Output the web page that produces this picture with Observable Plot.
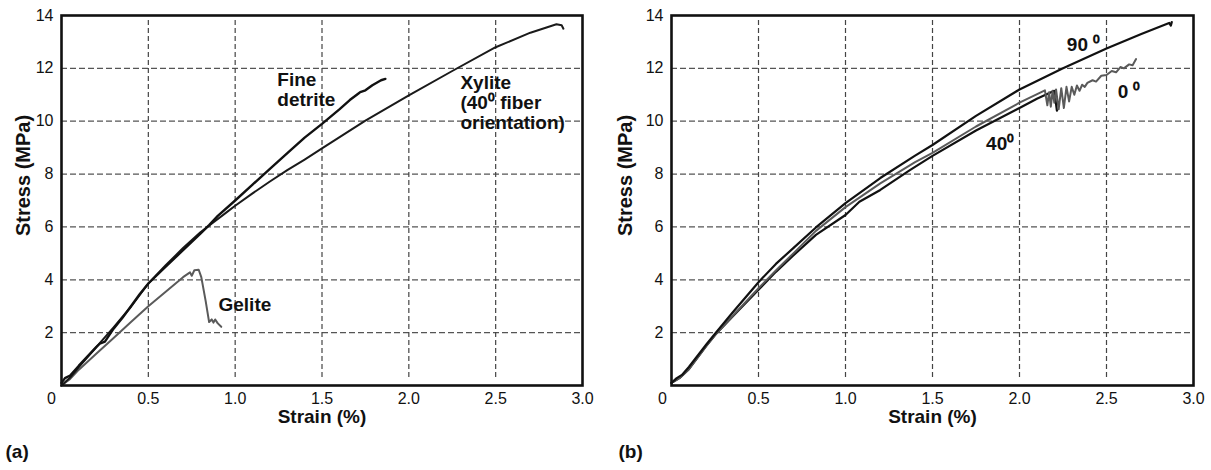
<!DOCTYPE html>
<html><head><meta charset="utf-8">
<script src="https://cdn.jsdelivr.net/npm/d3@7"></script>
<script src="https://cdn.jsdelivr.net/npm/@observablehq/plot@0.6"></script>
<style>
body{margin:0;background:#fff;}
#wrap{display:flex;width:1211px;height:470px;overflow:hidden;}
svg [aria-label="x-axis tick label"], svg [aria-label="y-axis tick label"], svg [aria-label="origin"] {font-size:16px !important;}
svg [aria-label="x-axis tick label"] text, svg [aria-label="y-axis tick label"] text {font-size:16px !important;}
</style></head><body><div id="wrap"></div>
<script>
// Tick values and grid
const xTicks = [0.5, 1, 1.5, 2, 2.5, 3];
const yTicks = [2, 4, 6, 8, 10, 12, 14];
const xGrid = [0.5, 1, 1.5, 2, 2.5];
const yGrid = [2, 4, 6, 8, 10, 12];

// Panel (a) series: [strain %, stress MPa]
const fineDetrite = [[0,0.1],[0.02,0.28],[0.05,0.38],[0.1,0.75],[0.15,1.1],[0.2,1.45],[0.22,1.58],[0.25,1.66],[0.3,2.15],[0.35,2.55],[0.4,3.0],[0.45,3.45],[0.5,3.86],[0.6,4.5],[0.7,5.12],[0.8,5.75],[0.85,6.07],[0.9,6.42],[1.0,7.0],[1.1,7.6],[1.2,8.2],[1.31,8.85],[1.4,9.38],[1.5,9.9],[1.6,10.45],[1.66,10.8],[1.71,11.05],[1.72,11.1],[1.75,11.17],[1.79,11.36],[1.84,11.55],[1.865,11.6]];
const xylite = [[0,0],[0.05,0.3],[0.1,0.7],[0.2,1.45],[0.3,2.2],[0.4,2.98],[0.5,3.86],[0.6,4.55],[0.7,5.2],[0.8,5.8],[0.87,6.15],[0.95,6.55],[1.0,6.8],[1.1,7.27],[1.2,7.72],[1.3,8.15],[1.4,8.55],[1.5,8.97],[1.75,10.02],[2.0,10.98],[2.25,11.9],[2.5,12.8],[2.7,13.35],[2.85,13.67],[2.88,13.63],[2.89,13.5]];
const gelite = [[0,0],[0.05,0.25],[0.1,0.6],[0.2,1.2],[0.3,1.8],[0.4,2.4],[0.5,3.0],[0.6,3.55],[0.7,4.1],[0.74,4.28],[0.75,4.15],[0.765,4.36],[0.79,4.38],[0.805,4.1],[0.83,3.2],[0.85,2.4],[0.865,2.5],[0.875,2.38],[0.885,2.5],[0.9,2.35],[0.92,2.22]];

// Panel (b) series
const deg90 = [[0,0.1],[0.03,0.28],[0.06,0.4],[0.1,0.7],[0.2,1.55],[0.255,2.0],[0.35,2.75],[0.5,3.91],[0.6,4.6],[0.7,5.2],[0.83,5.98],[1.0,6.9],[1.2,7.85],[1.4,8.7],[1.5,9.1],[1.75,10.2],[2.0,11.2],[2.25,12.0],[2.5,12.75],[2.7,13.3],[2.86,13.72],[2.87,13.62],[2.875,13.75]];
const deg0 = [[0,0.1],[0.05,0.3],[0.1,0.62],[0.2,1.5],[0.255,1.95],[0.35,2.62],[0.5,3.68],[0.6,4.35],[0.7,5.0],[0.83,5.85],[1.0,6.75],[1.2,7.65],[1.4,8.45],[1.5,8.8],[1.75,9.8],[2.0,10.7],[2.146,11.17],[2.16,10.6],[2.17,11.1],[2.18,10.55],[2.19,11.15],[2.2,10.7],[2.21,11.2],[2.225,10.45],[2.24,11.25],[2.255,10.5],[2.27,11.3],[2.285,10.75],[2.3,11.3],[2.315,11.0],[2.33,11.35],[2.345,11.15],[2.36,11.38],[2.375,11.3],[2.39,11.45],[2.42,11.55],[2.44,11.5],[2.47,11.72],[2.5,11.75],[2.53,11.9],[2.555,11.85],[2.58,12.05],[2.6,12.0],[2.63,12.15],[2.65,12.12],[2.67,12.35]];
const deg40 = [[0,0.1],[0.05,0.3],[0.1,0.62],[0.2,1.5],[0.255,1.95],[0.35,2.6],[0.5,3.62],[0.6,4.3],[0.7,4.92],[0.83,5.7],[1.0,6.45],[1.08,6.95],[1.2,7.4],[1.37,8.15],[1.5,8.69],[1.75,9.65],[2.0,10.5],[2.1,10.85],[2.2,11.15],[2.215,10.4]];

// Annotations (data coordinates of text top-left)
const labelsA = [
  {x: 1.243, y: 11.85, text: "Fine\ndetrite"},
  {x: 2.297, y: 11.74, text: "Xylite\n(40\u2070 fiber\norientation)"},
  {x: 0.904, y: 3.35, text: "Gelite"}
];
const labelsB = [
  {x: 2.272, y: 13.18, text: "90 \u2070"},
  {x: 2.564, y: 11.4, text: "0 \u2070"},
  {x: 1.808, y: 9.43, text: "40\u2070"}
];

const FONT = '"Liberation Sans", Arial, Helvetica, sans-serif';
const px = d => d[0], py = d => d[1];

function panel(o) {
  return Plot.plot({
    width: o.width, height: 470,
    marginLeft: o.ml, marginRight: 18, marginTop: 15, marginBottom: 85,
    x: {domain: [0, 3]},
    y: {domain: [0, 14]},
    style: {fontFamily: FONT, fontSize: "16px", color: "#111", background: "#fff"},
    marks: [
      Plot.ruleY(yGrid, {stroke: "#555", strokeWidth: 1.2, strokeDasharray: "6,3"}),
      Plot.ruleX(xGrid, {stroke: "#444", strokeWidth: 1.2, strokeDasharray: "5,3", insetTop: 5, insetBottom: 8}),
      Plot.axisX(xTicks, {tickSize: 0, tickPadding: 7, tickFormat: d3.format(".1f"), label: null, fontSize: 16}),
      Plot.axisY(yTicks, {tickSize: 0, tickPadding: 8, label: null, fontSize: 16}),
      Plot.text([0], {x: d => d, frameAnchor: "bottom", lineAnchor: "top", dy: 7, dx: o.zeroDx, text: d => String(d), fontSize: 16, ariaLabel: "origin"}),
      ...o.lines.map(l => Plot.line(l.data, {x: px, y: py, stroke: l.color, strokeWidth: l.w, strokeLinejoin: "round"})),
      Plot.frame({stroke: "#111", strokeWidth: 2.6}),
      Plot.text(o.labels, {x: "x", y: "y", text: "text", textAnchor: "start", lineAnchor: "top", fontWeight: "bold", fontSize: 19, lineHeight: 1.05, fill: "#111"}),
      Plot.text(["Strain (%)"], {frameAnchor: "bottom", textAnchor: "middle", dy: 37, text: d => d, fontWeight: "bold", fontSize: 19}),
      Plot.text(["Stress (MPa)"], {frameAnchor: "left", textAnchor: "middle", rotate: -90, dx: o.yLabDx, dy: -25, text: d => d, fontWeight: "bold", fontSize: 20}),
      Plot.text([o.letter], {frameAnchor: "bottom-left", textAnchor: "start", dx: o.letterDx, dy: 72, text: d => d, fontWeight: "bold", fontSize: 19})
    ]
  });
}

const wrap = document.getElementById("wrap");
wrap.appendChild(panel({
  width: 600, ml: 61, zeroDx: -10, yLabDx: -38, letterDx: -56, letter: "(a)",
  labels: labelsA,
  lines: [
    {data: gelite, color: "#5a5a5a", w: 2},
    {data: xylite, color: "#1a1a1a", w: 2},
    {data: fineDetrite, color: "#111", w: 2.4}
  ]
}));
wrap.appendChild(panel({
  width: 611, ml: 71, zeroDx: -9, yLabDx: -46, letterDx: -53, letter: "(b)",
  labels: labelsB,
  lines: [
    {data: deg40, color: "#111", w: 2.2},
    {data: deg0, color: "#5a5a5a", w: 2},
    {data: deg90, color: "#111", w: 2.2}
  ]
}));
</script>
</body></html>
